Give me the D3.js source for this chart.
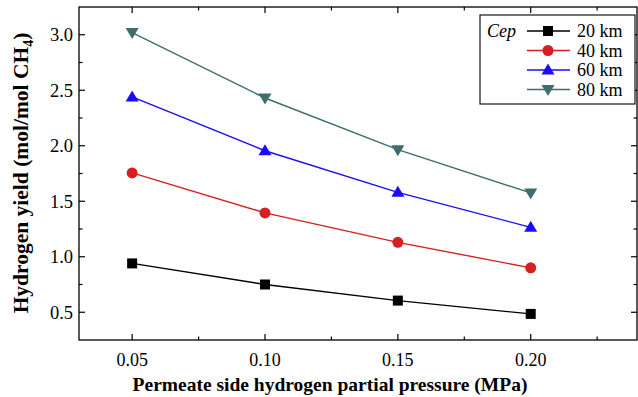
<!DOCTYPE html>
<html>
<head>
<meta charset="utf-8">
<script src="https://cdn.jsdelivr.net/npm/d3@7"></script>
<style>
  html, body { margin: 0; padding: 0; background: #fff; }
  svg { display: block; }
  svg text { font-family: "Liberation Serif", "Times New Roman", Times, "DejaVu Serif", serif; }
</style>
</head>
<body>
<svg id="chart" width="638" height="397"></svg>
<script>
// Permeate-side pressure (MPa) and hydrogen yield per Cep series
const pressures = [0.05, 0.10, 0.15, 0.20];
const yield20 = [0.94, 0.75, 0.605, 0.485];
const yield40 = [1.755, 1.395, 1.13, 0.90];
const yield60 = [2.44, 1.955, 1.58, 1.265];
const yield80 = [3.02, 2.43, 1.965, 1.575];
const seriesNames = ["20 km", "40 km", "60 km", "80 km"];
const xTicks = [0.05, 0.10, 0.15, 0.20];
const yTicks = [0.5, 1.0, 1.5, 2.0, 2.5, 3.0];

const series = [
  { name: seriesNames[0], values: yield20, color: "#000000", shape: "square" },
  { name: seriesNames[1], values: yield40, color: "#d42020", shape: "circle" },
  { name: seriesNames[2], values: yield60, color: "#1a0dff", shape: "up" },
  { name: seriesNames[3], values: yield80, color: "#3d6e6c", shape: "down" }
];

const FONT = "'Liberation Serif', 'Times New Roman', Times, 'DejaVu Serif', serif";
const svg = d3.select("#chart").attr("font-family", FONT);
const m = { left: 79, right: 637, top: 7, bottom: 340 };

const x = d3.scaleLinear().domain([0.03, 0.24]).range([m.left, m.right]);
const y = d3.scaleLinear().domain([0.25, 3.25]).range([m.bottom, m.top]);

// Frame
svg.append("rect")
  .attr("x", m.left).attr("y", m.top)
  .attr("width", m.right - m.left).attr("height", m.bottom - m.top)
  .attr("fill", "none").attr("stroke", "#000").attr("stroke-width", 1.3);

const majorLen = 6, minorLen = 3.5;
const xMinor = d3.range(0.075, 0.24, 0.05);
const yMinor = d3.range(0.75, 3.25, 0.5);

const ticks = svg.append("g").attr("stroke", "#000").attr("stroke-width", 1.2);
// inward ticks on bottom & top
xTicks.forEach(v => {
  ticks.append("line").attr("x1", x(v)).attr("x2", x(v)).attr("y1", m.bottom).attr("y2", m.bottom - majorLen);
  ticks.append("line").attr("x1", x(v)).attr("x2", x(v)).attr("y1", m.top).attr("y2", m.top + majorLen);
});
xMinor.forEach(v => {
  ticks.append("line").attr("x1", x(v)).attr("x2", x(v)).attr("y1", m.bottom).attr("y2", m.bottom - minorLen);
  ticks.append("line").attr("x1", x(v)).attr("x2", x(v)).attr("y1", m.top).attr("y2", m.top + minorLen);
});
// inward ticks on left & right
yTicks.forEach(v => {
  ticks.append("line").attr("y1", y(v)).attr("y2", y(v)).attr("x1", m.left).attr("x2", m.left + majorLen);
  ticks.append("line").attr("y1", y(v)).attr("y2", y(v)).attr("x1", m.right).attr("x2", m.right - majorLen);
});
yMinor.forEach(v => {
  ticks.append("line").attr("y1", y(v)).attr("y2", y(v)).attr("x1", m.left).attr("x2", m.left + minorLen);
  ticks.append("line").attr("y1", y(v)).attr("y2", y(v)).attr("x1", m.right).attr("x2", m.right - minorLen);
});

// Tick labels
svg.append("g").selectAll("text").data(xTicks).join("text")
  .attr("font-family", FONT)
  .attr("x", d => x(d)).attr("y", m.bottom + 26)
  .attr("text-anchor", "middle").attr("font-size", 18)
  .text(d => d3.format(".2f")(d));
svg.append("g").selectAll("text").data(yTicks).join("text")
  .attr("font-family", FONT)
  .attr("x", m.left - 6).attr("y", d => y(d)).attr("dy", "0.35em")
  .attr("text-anchor", "end").attr("font-size", 18.5)
  .text(d => d3.format(".1f")(d));

// Axis titles
svg.append("text")
  .attr("font-family", FONT)
  .attr("x", 330).attr("y", 391)
  .attr("text-anchor", "middle").attr("font-size", 19.5).attr("font-weight", "bold")
  .text("Permeate side hydrogen partial pressure (MPa)");

const yt = svg.append("text")
  .attr("font-family", FONT)
  .attr("transform", `translate(28,173) rotate(-90)`)
  .attr("text-anchor", "middle").attr("font-size", 21.5).attr("font-weight", "bold");
yt.append("tspan").text("Hydrogen yield (mol/mol CH");
yt.append("tspan").attr("font-size", 14).attr("dy", 5).text("4");
yt.append("tspan").attr("dy", -5).text(")");

// Marker drawing
function drawMarker(g, shape, cx, cy, color) {
  if (shape === "square") {
    g.append("rect").attr("x", cx - 5).attr("y", cy - 5).attr("width", 10).attr("height", 10).attr("fill", color);
  } else if (shape === "circle") {
    g.append("circle").attr("cx", cx).attr("cy", cy).attr("r", 5.5).attr("fill", color);
  } else if (shape === "up") {
    g.append("path").attr("d", `M${cx},${cy - 6.5}L${cx + 6.5},${cy + 4.5}L${cx - 6.5},${cy + 4.5}Z`).attr("fill", color);
  } else {
    g.append("path").attr("d", `M${cx},${cy + 6.5}L${cx + 6.5},${cy - 4.5}L${cx - 6.5},${cy - 4.5}Z`).attr("fill", color);
  }
}

const line = d3.line().x((d, i) => x(pressures[i])).y(d => y(d));
series.forEach(s => {
  const g = svg.append("g");
  g.append("path").datum(s.values).attr("d", line)
    .attr("fill", "none").attr("stroke", s.color).attr("stroke-width", 1.4);
  s.values.forEach((v, i) => drawMarker(g, s.shape, x(pressures[i]), y(v), s.color));
});

// Legend
const lg = svg.append("g");
lg.append("rect").attr("x", 480).attr("y", 15).attr("width", 155).attr("height", 89)
  .attr("fill", "#fff").attr("stroke", "#000").attr("stroke-width", 1.1);
lg.append("text").attr("font-family", FONT).attr("x", 487).attr("y", 31).attr("dy", "0.35em")
  .attr("font-size", 18).attr("font-style", "italic").text("Cep");
series.forEach((s, i) => {
  const ly = 31 + i * 19.5;
  lg.append("line").attr("x1", 527).attr("x2", 570).attr("y1", ly).attr("y2", ly)
    .attr("stroke", s.color).attr("stroke-width", 1.4);
  drawMarker(lg, s.shape, 548, ly, s.color);
  lg.append("text").attr("font-family", FONT).attr("x", 577).attr("y", ly).attr("dy", "0.35em")
    .attr("font-size", 18).text(s.name);
});
</script>
</body>
</html>
